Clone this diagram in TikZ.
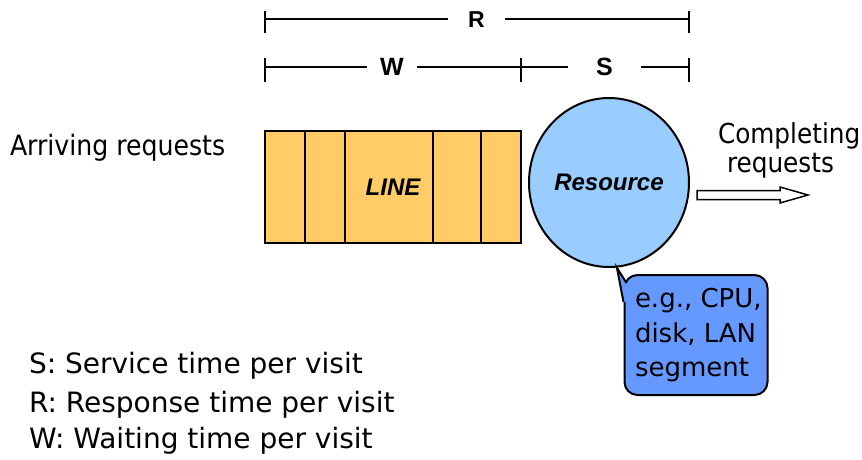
\documentclass[tikz,border=0pt]{standalone}
\usepackage{fontspec}
\setmainfont{DejaVu Sans Condensed}
\newfontfamily\widefont{DejaVu Sans}
\newfontfamily\arialfont{Liberation Sans}
\usetikzlibrary{shapes.geometric,calc}

\definecolor{queuefill}{HTML}{FFCC66}
\definecolor{resfill}{HTML}{99CCFF}
\definecolor{notefill}{HTML}{6699FF}

\tikzset{
  plain/.style={font=\fontsize{28}{28}\selectfont, inner sep=0pt, anchor=base west},
  legend/.style={font=\widefont\fontsize{28}{28}\selectfont, inner sep=0pt, anchor=base west},
  notetext/.style={font=\widefont\fontsize{26}{26}\selectfont, inner sep=0pt, anchor=base west},
  dimlabel/.style={font=\arialfont\bfseries\fontsize{23}{23}\selectfont, inner sep=0pt},
  dimlabelbig/.style={font=\arialfont\bfseries\fontsize{25}{25}\selectfont, inner sep=0pt},
  boxlabel/.style={font=\arialfont\bfseries\itshape\fontsize{24}{24}\selectfont},
  dimline/.style={line width=2pt},
}

\begin{document}
\begin{tikzpicture}[x=1pt,y=-1pt,line width=2pt]
\useasboundingbox (0,0) rectangle (862,460);

% dimension bars R, W, S
\coordinate (rL) at (265,19.5);
\coordinate (rR) at (689,19.5);
\node[dimlabel, minimum width=55pt] (rlab) at (476.5,19.5) {R};
\draw[dimline] (rL) -- (rlab.west);
\draw[dimline] (rlab.east) -- (rR);
\draw[dimline] (265,11) -- (265,33);
\draw[dimline] (689,11) -- (689,33);

\coordinate (wL) at (265,67);
\coordinate (wM) at (521,67);
\coordinate (wR) at (689,67);
\node[dimlabelbig, minimum width=48pt] (wlab) at (392,67) {W};
\node[dimlabelbig, minimum width=71pt] (slab) at (604.5,67) {S};
\draw[dimline] (wL) -- (wlab.west);
\draw[dimline] (wlab.east) -- (wM) -- (slab.west);
\draw[dimline] (slab.east) -- (wR);
\draw[dimline] (265,58) -- (265,82);
\draw[dimline] (521,58) -- (521,82);
\draw[dimline] (689,58) -- (689,82);

% waiting line
\node[draw, fill=queuefill, minimum width=256pt, minimum height=112pt, inner sep=0pt,
      boxlabel] (queue) at (393,187) {LINE};
\foreach \xx in {305,345,433,481}
  \draw (\xx,131) -- (\xx,243);

% resource
\node[ellipse, draw, fill=resfill, minimum width=160pt, minimum height=169pt, inner sep=0pt,
      boxlabel] (res) at (609,182.5) {Resource};

% outgoing block arrow
\coordinate (outS) at (697,195);
\draw[line width=1.5pt, fill=white]
  ($(outS)+(0,-4.5)$) -- ++(83,0) -- ++(0,-3.5) -- ($(outS)+(111,0)$)
  -- ($(outS)+(83,8)$) -- ++(0,-3.5) -- ($(outS)+(0,4.5)$) -- cycle;

% labels
\node[plain] (arr) at (9,155) {Arriving requests};
\node[plain, font=\fontsize{27.5}{27.5}\selectfont] (comp1) at (717,143) {Completing};
\node[plain, font=\fontsize{27.5}{27.5}\selectfont] (comp2) at (726,172) {requests};

% callout
\coordinate (tip) at (617,268);
\node[draw, fill=notefill, rounded corners=13pt, minimum width=143pt, minimum height=120pt,
      inner sep=0pt] (note) at (696,335) {};
\fill[notefill] (623.5,302) -- (tip) -- (626.5,283) -- (628.5,302) -- cycle;
\draw (623.5,302) -- (tip) -- (626.5,283);
\node[notetext] (n1) at (634,307) {e.g., CPU,};
\node[notetext] (n2) at (634,342) {disk, LAN};
\node[notetext] (n3) at (634,376) {segment};

% legend
\node[legend] (l1) at (28,373) {S: Service time per visit};
\node[legend] (l2) at (28,412) {R: Response time per visit};
\node[legend] (l3) at (28,448) {W: Waiting time per visit};
\end{tikzpicture}
\end{document}
